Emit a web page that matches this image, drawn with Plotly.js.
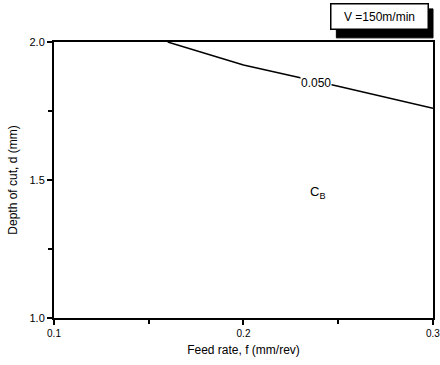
<!DOCTYPE html>
<html><head><meta charset="utf-8">
<script src="https://cdn.plot.ly/plotly-3.0.1.min.js"></script>
<style>body{margin:0;background:#fff}#c{width:440px;height:365px}</style>
</head><body><div id="c"></div>
<script>
const feedRate = [0.16, 0.2, 0.25, 0.3];
const depth = [2.0, 1.917, 1.84, 1.76];
const contourLabel = "0.050";
const regionLabel = "C<sub>B</sub>";
const speedLabel = "V =150m/min";
const xTicks = [0.1, 0.2, 0.3];
const xTickText = ["0.1", "0.2", "0.3"];
const yTicks = [1.0, 1.5, 2.0];
const yTickText = ["1.0", "1.5", "2.0"];

const font = {family: "Liberation Sans, Arial, sans-serif", color: "#000"};
const px = v => (v - 54) / 379;   // pixel x -> paper
const py = v => (318 - v) / 276;  // pixel y -> paper
Plotly.newPlot("c", [{
  x: feedRate, y: depth, mode: "lines", type: "scatter",
  line: {color: "#000", width: 1.5}, hoverinfo: "skip", showlegend: false
}], {
  width: 440, height: 365,
  margin: {l: 54, r: 7, t: 42, b: 47},
  paper_bgcolor: "#fff", plot_bgcolor: "#fff",
  font: Object.assign({size: 11}, font),
  xaxis: {
    range: [0.1, 0.30001], showgrid: false, zeroline: false,
    showline: true, linewidth: 2, linecolor: "#000", mirror: true,
    ticks: "outside", ticklen: 5, tickwidth: 2, tickcolor: "#000",
    tickvals: xTicks, ticktext: xTickText, ticklabeloverflow: "allow",
    tickfont: Object.assign({size: 10}, font),
    minor: {tickvals: [0.15, 0.25], ticks: "outside", ticklen: 4, tickwidth: 2, tickcolor: "#000", showgrid: false},
    title: {text: "Feed rate, f (mm/rev)", font: Object.assign({size: 12}, font), standoff: 8}
  },
  yaxis: {
    range: [0.99999, 2.00001], showgrid: false, zeroline: false,
    showline: true, linewidth: 2, linecolor: "#000", mirror: true,
    ticks: "outside", ticklen: 5, tickwidth: 2, tickcolor: "#000",
    tickvals: yTicks, ticktext: yTickText, ticklabeloverflow: "allow",
    tickfont: Object.assign({size: 11}, font),
    minor: {tickvals: [1.25, 1.75], ticks: "outside", ticklen: 4, tickwidth: 2, tickcolor: "#000", showgrid: false},
    title: {text: "Depth of cut, d (mm)", font: Object.assign({size: 12}, font), standoff: 9}
  },
  shapes: [
    {type: "rect", xref: "paper", yref: "paper", layer: "above",
     x0: 0.745, x1: 1.0, y0: 1.015, y1: 1.12,
     fillcolor: "black", line: {color: "black", width: 1}}
  ],
  annotations: [
    {x: 0.238, y: 1.851, xref: "x", yref: "y", text: contourLabel, showarrow: false,
     bgcolor: "#fff", borderpad: 0, font: Object.assign({size: 12}, font)},
    {x: 0.239, y: 1.453, xref: "x", yref: "y", text: regionLabel, showarrow: false,
     font: Object.assign({size: 13}, font)},
    {xref: "paper", yref: "paper", x: px(379), y: py(16), xanchor: "center", yanchor: "middle",
     text: speedLabel, showarrow: false, width: 92, height: 20, bgcolor: "#fff",
     bordercolor: "#000", borderwidth: 1.5, borderpad: 2,
     font: Object.assign({size: 12}, font)}
  ]
}, {staticPlot: true});
</script></body></html>
